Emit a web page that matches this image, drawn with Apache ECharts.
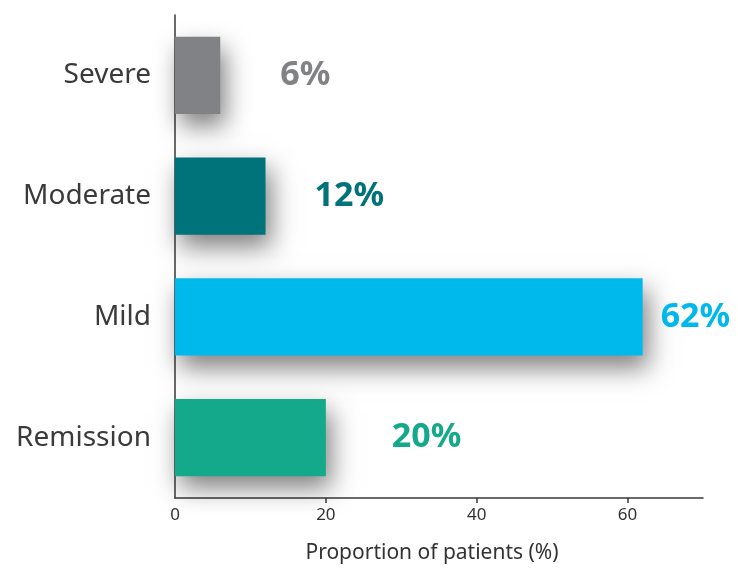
<!DOCTYPE html>
<html>
<head>
<meta charset="utf-8">
<title>Disease severity</title>
<script src="https://cdn.jsdelivr.net/npm/echarts@6/dist/echarts.min.js"></script>
<style>
  html, body { margin: 0; padding: 0; background: #ffffff; }
  #chart { width: 738px; height: 569px; }
</style>
</head>
<body>
<div id="chart"></div>
<script>
// Severity groups, top to bottom
const categories = ['Severe', 'Moderate', 'Mild', 'Remission'];
// Proportion of patients in each group (%)
const proportions = [6, 12, 62, 20];
// Bar and value-label colours for each group
const barColors = ['#808285', '#00727a', '#00b9ec', '#14a98b'];
// Gap between bar end and its value label
const labelGaps = [60, 49, 18, 66];
// Value-axis tick labels and tick marks
const tickLabels = [0, 20, 40, 60];
const tickMarks = [20, 40, 60];

const FONT = '"Noto Sans", "DejaVu Sans", sans-serif';

const seriesData = proportions.map((v, i) => ({
  value: v,
  itemStyle: { color: barColors[i] },
  label: { color: barColors[i], distance: labelGaps[i] }
}));

const chart = echarts.init(document.getElementById('chart'), null, { renderer: 'canvas' });

chart.setOption({
  animation: false,
  backgroundColor: '#ffffff',
  grid: { left: 175, top: 15, width: 528, height: 484, containLabel: false },
  xAxis: {
    type: 'value',
    min: 0,
    max: 70,
    interval: 20,
    name: 'Proportion of patients (%)',
    nameLocation: 'middle',
    nameGap: 45,
    nameTextStyle: { fontFamily: FONT, fontSize: 21, color: '#333333', padding: [0, 14, 0, 0] },
    axisLine: { show: true, lineStyle: { color: '#3a3a3a', width: 1.5 } },
    axisTick: { show: true, length: 5, customValues: tickMarks, lineStyle: { color: '#3a3a3a', width: 1.5 } },
    axisLabel: { customValues: tickLabels, margin: 9, fontFamily: FONT, fontSize: 17, color: '#333333' },
    splitLine: { show: false }
  },
  yAxis: {
    type: 'category',
    data: categories,
    inverse: true,
    axisLine: { show: true, lineStyle: { color: '#3a3a3a', width: 1.5 } },
    axisTick: { show: false },
    axisLabel: { margin: 24, fontFamily: FONT, fontSize: 28, color: '#3a3a3a' }
  },
  series: [{
    type: 'bar',
    data: seriesData,
    barCategoryGap: '36%',
    itemStyle: {
      shadowBlur: 24,
      shadowOffsetX: 5,
      shadowOffsetY: 12,
      shadowColor: 'rgba(0,0,0,0.5)'
    },
    label: {
      show: true,
      position: 'right',
      formatter: '{c}%',
      fontFamily: FONT,
      fontWeight: 'bold',
      fontSize: 34
    }
  }]
});
</script>
</body>
</html>
